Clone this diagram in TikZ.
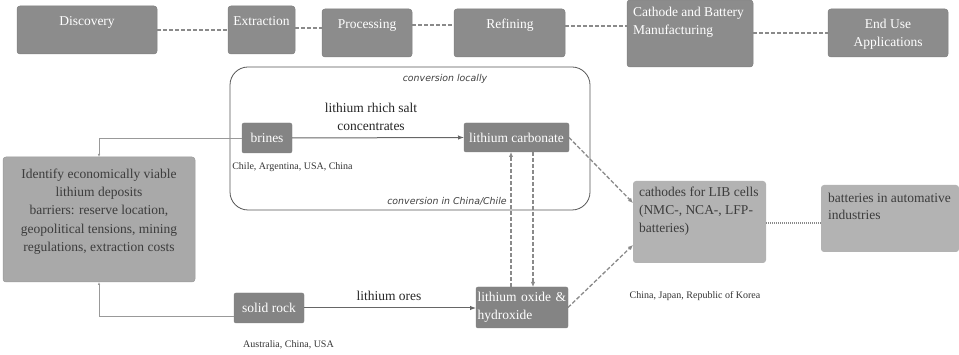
\documentclass[tikz,border=0pt]{standalone}
\usepackage{fontspec}
\setmainfont{Liberation Serif}
\newfontfamily\labsans{DejaVu Sans}
\usetikzlibrary{arrows.meta}
\definecolor{topfill}{HTML}{8C8C8C}
\definecolor{topedge}{HTML}{7E7E7E}
\definecolor{darkfill}{HTML}{848484}
\definecolor{idfill}{HTML}{A9A9A9}
\definecolor{idedge}{HTML}{9A9A9A}
\definecolor{lightfill}{HTML}{B3B3B3}
\definecolor{idtext}{HTML}{3C3C3C}
\definecolor{dashc}{HTML}{8A8A8A}
\definecolor{framec}{HTML}{555555}
\begin{document}
\begin{tikzpicture}[x=1pt,y=-1pt,
  every node/.style={inner sep=0pt, outer sep=0pt},
  topbox/.style={fill=topfill, draw=topedge, line width=0.5pt, rounded corners=3pt, anchor=north west},
  toptext/.style={text=white, font=\fontsize{13.5}{18}\selectfont, align=center},
  procnode/.style={fill=darkfill, draw=topedge, line width=0.4pt, rounded corners=2pt, text=white, font=\fontsize{13.5}{18}\selectfont, anchor=north west},
  lightbox/.style={fill=lightfill, rounded corners=3pt, anchor=north west},
  lighttext/.style={text=idtext, font=\fontsize{13.5}{18}\selectfont, align=left, anchor=north west},
  caption/.style={text=black!80, font=\fontsize{10}{12}\selectfont},
  lab/.style={text=black!85, font=\fontsize{13.5}{18}\selectfont, align=center},
  itlab/.style={text=black!75, font=\labsans\itshape\fontsize{9.4}{11}\selectfont},
  topdash/.style={draw=dashc, line width=1.2pt, dash pattern=on 4pt off 2pt},
  dasharr/.style={draw=dashc, line width=1.3pt, dash pattern=on 4pt off 2pt, -{Latex[length=5pt,width=4.5pt]}},
  solidarr/.style={draw=black!60, line width=1pt, -{Latex[length=6pt,width=4.5pt]}},
  thinarr/.style={draw=black!40, line width=0.6pt, -{Latex[length=3pt,width=2.5pt]}},
  dotc/.style={draw=dashc, line width=1.2pt, dash pattern=on 1pt off 1pt}
]
\useasboundingbox (0,0) rectangle (959,355);

% top row
\node[topbox, minimum width=140, minimum height=48] (disc) at (17,6) {};
\node[toptext] (discT) at (87,22) {Discovery};
\node[topbox, minimum width=67, minimum height=48] (extr) at (228,6) {};
\node[toptext] (extrT) at (261.5,21) {Extraction};
\node[topbox, minimum width=90, minimum height=48] (proc) at (322,9) {};
\node[toptext] (procT) at (367,25) {Processing};
\node[topbox, minimum width=111, minimum height=48] (refi) at (454,9) {};
\node[toptext] (refiT) at (510,25) {Refining};
\node[topbox, minimum width=126, minimum height=67] (cath) at (627,0) {};
\node[toptext, align=left, anchor=north west] (cathT) at (633,7) {Cathode and Battery\\Manufacturing};
\node[topbox, minimum width=120, minimum height=48] (endu) at (828,9) {};
\node[toptext] (enduT) at (888,34) {End Use\\Applications};

\draw[topdash] (disc.east) -- (extr.west);
\draw[topdash] (extr.east |- 0,28) -- (proc.west |- 0,28);
\draw[topdash] (proc.east |- 0,25) -- (refi.west |- 0,25);
\draw[topdash] (refi.east |- 0,26) -- (cath.west |- 0,26);
\draw[topdash] (cath.east |- 0,33) -- (endu.west |- 0,33);

% frame
\node[draw=framec, line width=0.8pt, rounded corners=18pt, minimum width=360, minimum height=143, anchor=north west] (frame) at (230,67) {};
\node[itlab] (locT) at (445,79) {conversion locally};
\node[itlab] (chT) at (447,201) {conversion in China/Chile};

% process nodes
\node[procnode, minimum width=50, minimum height=30] (brines) at (242,123) {brines};
\node[procnode, minimum width=105, minimum height=29] (licarb) at (464,123) {lithium carbonate};
\node[procnode, minimum width=70, minimum height=30] (solid) at (234,293) {solid rock};
\node[procnode, minimum width=92, minimum height=41, align=left, text width=89] (liox) at (476,287) {lithium oxide \&\\hydroxide};

% identify
\node[fill=idfill, draw=idedge, line width=0.5pt, rounded corners=3pt, minimum width=192, minimum height=125, anchor=north west] (ident) at (3,157) {};
\node[text=idtext, font=\fontsize{13.5}{18.3}\selectfont, align=center] (identT) at (99,211.5) {Identify economically viable\\lithium deposits\\barriers: reserve location,\\geopolitical tensions, mining\\regulations, extraction costs};

% cathodes & batteries
\node[lightbox, minimum width=133, minimum height=82] (lib) at (633,181) {};
\node[lighttext] (libT) at (639,187) {cathodes for LIB cells\\(NMC-, NCA-, LFP-\\batteries)};
\node[lightbox, minimum width=138, minimum height=67] (batt) at (821,185) {};
\node[lighttext, font=\fontsize{13.5}{17}\selectfont] (battT) at (828,193) {batteries in automative\\industries};

% captions
\node[caption] (brC) at (292.5,167) {Chile, Argentina, USA, China};
\node[caption] (srC) at (288.5,345) {Australia, China, USA};
\node[caption] (libC) at (695,296) {China, Japan, Republic of Korea};

% connector labels
\node[lab] (saltL) at (371,117) {lithium rhich salt\\concentrates};
\node[lab] (oreL) at (389,296) {lithium ores};

% arrows
\draw[solidarr] (brines.east) -- (licarb.west);
\draw[solidarr] (solid.east) -- (solid.east -| liox.west);
\draw[thinarr] (brines.west) -| (ident.north);
\draw[thinarr] ([yshift=-8pt]solid.west) -| (ident.south);
\draw[dasharr] (liox.north -| 511,0) -- (licarb.south -| 511,0);
\draw[dasharr] (licarb.south -| 533,0) -- (liox.north -| 533,0);
\draw[dasharr] (licarb.east) -- (lib.west |- 0,203);
\draw[dasharr] (liox.east) -- (lib.west |- 0,245);
\draw[dotc] (lib.east |- 0,223) -- (batt.west |- 0,223);
\end{tikzpicture}
\end{document}
